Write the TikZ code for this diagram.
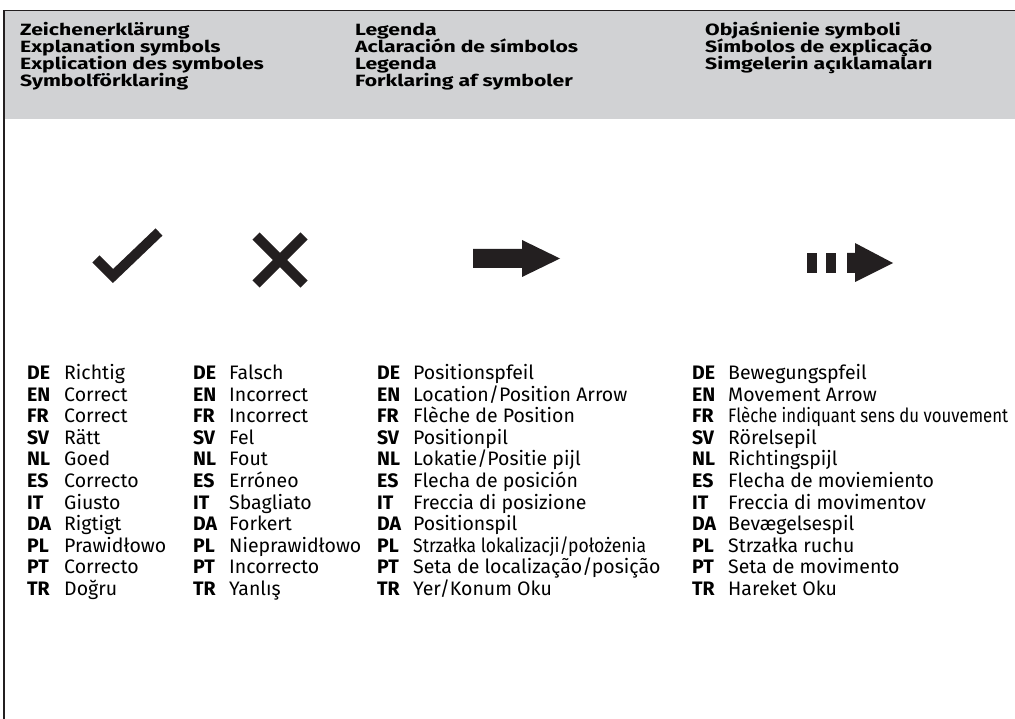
\documentclass[tikz,border=0pt]{standalone}
\usepackage{fontspec}
\usepackage{graphicx}
\setmainfont{Fira Sans}
\newfontfamily\headfont[FakeStretch=1.3]{Fira Sans}
\usetikzlibrary{positioning}
\definecolor{ink}{HTML}{231F20}
\definecolor{band}{HTML}{D1D2D4}
\begin{document}
\begin{tikzpicture}[x=1pt,y=-1pt,
  head/.style={anchor=base west,inner sep=0pt,font=\headfont\bfseries\fontsize{16.3}{16.3}\selectfont},
  code/.style={anchor=base west,inner sep=0pt,font=\bfseries\fontsize{19.5}{19.5}\selectfont},
  word/.style={anchor=base west,inner sep=0pt,font=\fontsize{19.5}{19.5}\selectfont}]
\useasboundingbox (0,0) rectangle (1015,719);
\fill[band] (4,11) rectangle (1015,119);
\draw[ink,line width=1.6pt] (4,719) -- (4,10.5) -- (1015,10.5);

% header
\foreach \t [count=\i] in {Zeichenerklärung,Explanation symbols,Explication des symboles,Symbolförklaring}
  \node[head] (hA\i) at (20,{36+17*(\i-1)}) {\t};
\foreach \t [count=\i] in {Legenda,Aclaración de símbolos,Legenda,Forklaring af symboler}
  \node[head] (hB\i) at (355,{36+17*(\i-1)}) {\t};
\foreach \t [count=\i] in {Objaśnienie symboli,Símbolos de explicação,Simgelerin açıklamaları}
  \node[head] (hC\i) at (705,{36+17*(\i-1)}) {\t};

% symbols
\draw[ink,line width=10pt] (96,259) -- (113,276) -- (159,232);
\draw[ink,line width=10pt] (256,236) -- (304,284) (256,284) -- (304,236);
\fill[ink] (473,249) -- (522,249) -- (522,240) -- (560,258.5) -- (522,277) -- (522,268) -- (473,268) -- cycle;
\fill[ink] (807,253) rectangle (817,273);
\fill[ink] (826,253) rectangle (836,273);
\fill[ink] (847,253) -- (855,253) -- (855,243) -- (893,263) -- (855,282) -- (855,273) -- (847,273) -- cycle;

% language codes
\foreach \x/\c in {27/A,193/B,377/C,692/D}{
  \foreach \cc [count=\i] in {DE,EN,FR,SV,NL,ES,IT,DA,PL,PT,TR}
    \node[code] (code\c\i) at (\x,{379.5+21.6*(\i-1)}) {\cc};}

% texts
\foreach \t [count=\i] in {Richtig,Correct,Correct,Rätt,Goed,Correcto,Giusto,Rigtigt,Prawidłowo,Correcto,Doğru}
  \node[word] (wA\i) at (64,{379.5+21.6*(\i-1)}) {\t};
\foreach \t [count=\i] in {Falsch,Incorrect,Incorrect,Fel,Fout,Erróneo,Sbagliato,Forkert,Nieprawidłowo,Incorrecto,Yanlış}
  \node[word] (wB\i) at (229,{379.5+21.6*(\i-1)}) {\t};
\foreach \t [count=\i] in {Positionspfeil,Location/Position Arrow,Flèche de Position,Positionpil,Lokatie/Positie pijl,Flecha de posición,Freccia di posizione,Positionspil,{\resizebox{233pt}{\height}{Strzałka lokalizacji/położenia}},Seta de localização/posição,Yer/Konum Oku}
  \node[word] (wC\i) at (413,{379.5+21.6*(\i-1)}) {\t};
\foreach \t [count=\i] in {Bewegungspfeil,Movement Arrow,{\resizebox{280pt}{\height}{Flèche indiquant sens du vouvement}},Rörelsepil,Richtingspijl,Flecha de moviemiento,Freccia di movimentov,Bevægelsespil,Strzałka ruchu,Seta de movimento,Hareket Oku}
  \node[word] (wD\i) at (728,{379.5+21.6*(\i-1)}) {\t};
\end{tikzpicture}
\end{document}
